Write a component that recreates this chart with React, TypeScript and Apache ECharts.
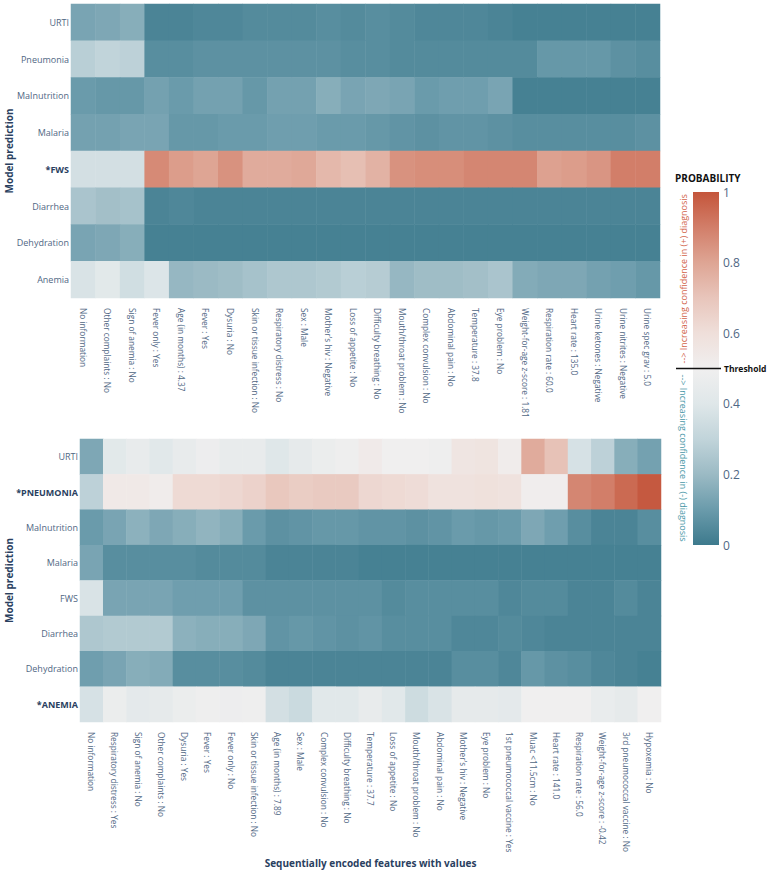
import React, { useEffect, useRef } from "react";
import * as echarts from "echarts";

// ---------- Data ----------
const topRows = ["URTI", "Pneumonia", "Malnutrition", "Malaria", "*FWS", "Diarrhea", "Dehydration", "Anemia"];
const topFeatures = [
  "No information", "Other complaints : No", "Sign of anemia : No", "Fever only : Yes",
  "Age (in months) : 4.37", "Fever : Yes", "Dysuria : No", "Skin or tissue infection : No",
  "Respiratory distress : No", "Sex : Male", "Mother's hiv : Negative", "Loss of appetite : No",
  "Difficulty breathing : No", "Mouth/throat problem : No", "Complex convulsion : No", "Abdominal pain : No",
  "Temperature : 37.8", "Eye problem : No", "Weight-for-age z-score : 1.81", "Respiration rate : 60.0",
  "Heart rate : 135.0", "Urine ketones : Negative", "Urine nitrites : Negative", "Urine spec grav : 5.0",
];
const topValues: number[][] = [
  // URTI
  [0.13, 0.14, 0.16, 0.03, 0.03, 0.04, 0.04, 0.05, 0.05, 0.05, 0.06, 0.05, 0.06, 0.05, 0.04, 0.04, 0.04, 0.03, 0.02, 0.02, 0.02, 0.02, 0.02, 0.02],
  // Pneumonia
  [0.28, 0.30, 0.29, 0.06, 0.06, 0.07, 0.07, 0.07, 0.07, 0.07, 0.07, 0.06, 0.06, 0.05, 0.05, 0.05, 0.05, 0.05, 0.05, 0.09, 0.09, 0.09, 0.07, 0.06],
  // Malnutrition
  [0.10, 0.09, 0.09, 0.12, 0.10, 0.12, 0.12, 0.09, 0.12, 0.12, 0.16, 0.13, 0.14, 0.13, 0.10, 0.11, 0.11, 0.13, 0.02, 0.02, 0.02, 0.02, 0.02, 0.02],
  // Malaria
  [0.12, 0.12, 0.13, 0.13, 0.09, 0.09, 0.10, 0.10, 0.11, 0.11, 0.10, 0.10, 0.09, 0.08, 0.07, 0.08, 0.08, 0.07, 0.06, 0.06, 0.06, 0.06, 0.06, 0.07],
  // *FWS
  [0.36, 0.36, 0.36, 0.87, 0.82, 0.80, 0.85, 0.78, 0.78, 0.79, 0.74, 0.72, 0.76, 0.85, 0.86, 0.86, 0.88, 0.88, 0.88, 0.81, 0.82, 0.84, 0.90, 0.90],
  // Diarrhea
  [0.24, 0.22, 0.23, 0.03, 0.04, 0.03, 0.03, 0.03, 0.03, 0.03, 0.03, 0.03, 0.03, 0.03, 0.03, 0.03, 0.03, 0.03, 0.03, 0.03, 0.03, 0.03, 0.03, 0.03],
  // Dehydration
  [0.13, 0.14, 0.16, 0.02, 0.02, 0.02, 0.02, 0.02, 0.02, 0.02, 0.02, 0.02, 0.02, 0.02, 0.02, 0.02, 0.02, 0.02, 0.02, 0.02, 0.02, 0.02, 0.02, 0.02],
  // Anemia
  [0.38, 0.42, 0.35, 0.39, 0.19, 0.20, 0.21, 0.23, 0.25, 0.25, 0.26, 0.28, 0.27, 0.19, 0.21, 0.21, 0.22, 0.24, 0.15, 0.14, 0.14, 0.12, 0.11, 0.09],
];

const bottomRows = ["URTI", "*PNEUMONIA", "Malnutrition", "Malaria", "FWS", "Diarrhea", "Dehydration", "*ANEMIA"];
const bottomFeatures = [
  "No information", "Respiratory distress : Yes", "Sign of anemia : No", "Other complaints : No",
  "Dysuria : Yes", "Fever : Yes", "Fever only : No", "Skin or tissue infection : No",
  "Age (in months) : 7.89", "Sex : Male", "Complex convulsion : No", "Difficulty breathing : No",
  "Temperature : 37.7", "Loss of appetite : No", "Mouth/throat problem : No", "Abdominal pain : No",
  "Mother's hiv : Negative", "Eye problem : No", "1st pneumococcal vaccine : Yes", "Muac <11.5cm : No",
  "Heart rate : 141.0", "Respiration rate : 56.0", "Weight-for-age z-score : -0.42", "3rd pneumococcal vaccine : No",
  "Hypoxemia : No",
];
const bottomValues: number[][] = [
  // URTI
  [0.14, 0.42, 0.45, 0.41, 0.45, 0.48, 0.45, 0.45, 0.40, 0.44, 0.47, 0.49, 0.53, 0.50, 0.50, 0.49, 0.56, 0.57, 0.52, 0.78, 0.71, 0.37, 0.29, 0.16, 0.12],
  // *PNEUMONIA
  [0.29, 0.54, 0.54, 0.52, 0.62, 0.62, 0.63, 0.65, 0.69, 0.67, 0.68, 0.68, 0.63, 0.62, 0.61, 0.58, 0.58, 0.59, 0.58, 0.51, 0.51, 0.88, 0.90, 0.95, 0.99],
  // Malnutrition
  [0.10, 0.13, 0.17, 0.14, 0.16, 0.18, 0.16, 0.10, 0.07, 0.08, 0.09, 0.09, 0.08, 0.08, 0.07, 0.08, 0.10, 0.09, 0.10, 0.14, 0.11, 0.06, 0.03, 0.03, 0.06],
  // Malaria
  [0.13, 0.06, 0.06, 0.06, 0.06, 0.05, 0.05, 0.05, 0.03, 0.03, 0.03, 0.03, 0.02, 0.02, 0.02, 0.02, 0.02, 0.02, 0.02, 0.02, 0.02, 0.02, 0.02, 0.02, 0.02],
  // FWS
  [0.38, 0.13, 0.13, 0.13, 0.11, 0.11, 0.11, 0.07, 0.07, 0.07, 0.07, 0.07, 0.07, 0.05, 0.06, 0.06, 0.06, 0.06, 0.04, 0.05, 0.05, 0.03, 0.03, 0.05, 0.03],
  // Diarrhea
  [0.25, 0.26, 0.26, 0.26, 0.17, 0.16, 0.16, 0.14, 0.08, 0.09, 0.08, 0.07, 0.08, 0.06, 0.06, 0.06, 0.04, 0.04, 0.05, 0.04, 0.03, 0.03, 0.03, 0.03, 0.03],
  // Dehydration
  [0.11, 0.13, 0.16, 0.15, 0.06, 0.06, 0.06, 0.05, 0.03, 0.03, 0.03, 0.03, 0.03, 0.03, 0.03, 0.03, 0.06, 0.06, 0.04, 0.09, 0.07, 0.06, 0.04, 0.03, 0.02],
  // *ANEMIA
  [0.37, 0.47, 0.43, 0.44, 0.47, 0.49, 0.48, 0.49, 0.36, 0.33, 0.41, 0.41, 0.45, 0.41, 0.34, 0.38, 0.44, 0.44, 0.43, 0.50, 0.50, 0.50, 0.46, 0.44, 0.50],
];

const colorbarTicks = [0, 0.2, 0.4, 0.6, 0.8, 1];
const threshold = 0.5;

// colours for 0, 0.1, ..., 1
const scaleColors = [
  "#3d7a8d", "#6a9bab", "#9bbac4", "#c1d4da", "#dfe7e9", "#f0efef",
  "#efdfda", "#e8c5bb", "#dea594", "#d27e69", "#c4553b",
];

const FONT = "'Open Sans', 'Noto Sans', sans-serif";
const LABEL_COLOR = "#506784";
const TITLE_COLOR = "#2a3f5f";

function toData(values: number[][]) {
  const out: [number, number, number][] = [];
  values.forEach((row, r) => row.forEach((v, c) => out.push([c, r, v])));
  return out;
}

export default function App() {
  const ref = useRef<HTMLDivElement>(null);
  useEffect(() => {
    if (!ref.current) return;
    const chart = echarts.init(ref.current, undefined, { renderer: "svg" });

    const yLabel = {
      fontSize: 9,
      color: LABEL_COLOR,
      fontFamily: FONT,
      margin: 2,
      formatter: (v: string) => (v.startsWith("*") ? `{b|${v}}` : v),
      rich: { b: { fontWeight: "bold", color: TITLE_COLOR, fontSize: 9, fontFamily: FONT } },
    };
    const xLabel = { fontSize: 8.3, color: LABEL_COLOR, fontFamily: FONT, rotate: -90, interval: 0, margin: 10 };
    const yName = { fontSize: 10, fontWeight: "bold", color: TITLE_COLOR, fontFamily: FONT };

    const barX = 693, barY = 192, barW = 26, barH = 353;
    const n = scaleColors.length;
    const gradStops = scaleColors.map((_, i) => ({ offset: i / (n - 1), color: scaleColors[n - 1 - i] }));
    const thrY = barY + barH * (1 - threshold);

    chart.setOption({
      animation: false,
      backgroundColor: "#ffffff",
      grid: [
        { left: 71, top: 4, width: 589, height: 294, outerBoundsMode: "none", containLabel: false },
        { left: 80, top: 439, width: 581, height: 283, outerBoundsMode: "none", containLabel: false },
        { left: barX, top: barY, width: barW, height: barH, outerBoundsMode: "none", containLabel: false },
      ],
      xAxis: [
        {
          type: "category", gridIndex: 0, data: topFeatures, axisTick: { show: false },
          axisLine: { show: false }, axisLabel: xLabel, splitLine: { show: false },
        },
        {
          type: "category", gridIndex: 1, data: bottomFeatures, axisTick: { show: false },
          axisLine: { show: false }, axisLabel: xLabel, splitLine: { show: false },
          name: "Sequentially encoded features with values", nameLocation: "middle", nameGap: 136,
          nameMoveOverlap: false,
          nameTextStyle: { fontSize: 10, fontWeight: "bold", color: TITLE_COLOR, fontFamily: FONT },
        },
        { type: "value", gridIndex: 2, show: false, min: 0, max: 1 },
      ],
      yAxis: [
        {
          type: "category", gridIndex: 0, data: topRows, inverse: true, axisTick: { show: false },
          axisLine: { show: false }, axisLabel: yLabel,
          name: "Model prediction", nameLocation: "middle", nameGap: 57, nameRotate: 90,
          nameMoveOverlap: false, nameTextStyle: yName,
        },
        {
          type: "category", gridIndex: 1, data: bottomRows, inverse: true, axisTick: { show: false },
          axisLine: { show: false }, axisLabel: yLabel,
          name: "Model prediction", nameLocation: "middle", nameGap: 66, nameRotate: 90,
          nameMoveOverlap: false, nameTextStyle: yName,
        },
        {
          type: "value", gridIndex: 2, min: 0, max: 1, interval: 0.2, position: "right",
          axisLine: { show: false }, axisTick: { show: false }, splitLine: { show: false },
          axisLabel: {
            fontSize: 12, color: LABEL_COLOR, fontFamily: FONT, margin: 4,
            formatter: (v: number) => (colorbarTicks.some((t) => Math.abs(t - v) < 1e-6) ? String(Number(v.toFixed(1))) : ""),
          },
        },
      ],
      visualMap: {
        show: false, type: "continuous", min: 0, max: 1, seriesIndex: [0, 1],
        inRange: { color: scaleColors },
      },
      series: [
        { type: "heatmap", xAxisIndex: 0, yAxisIndex: 0, data: toData(topValues), itemStyle: { borderWidth: 0 }, emphasis: { disabled: true } },
        { type: "heatmap", xAxisIndex: 1, yAxisIndex: 1, data: toData(bottomValues), itemStyle: { borderWidth: 0 }, emphasis: { disabled: true } },
      ],
      graphic: [
        {
          type: "rect", shape: { x: barX, y: barY, width: barW, height: barH },
          style: {
            fill: { type: "linear", x: 0, y: 0, x2: 0, y2: 1, colorStops: gradStops, global: false },
          },
        },
        {
          type: "text", x: 675, y: 178,
          style: { text: "PROBABILITY", fontSize: 10, fontWeight: "bold", fill: "#111", fontFamily: FONT, verticalAlign: "middle" },
        },
        {
          type: "line",
          shape: { x1: 676, y1: thrY, x2: 721, y2: thrY },
          style: { stroke: "#111", lineWidth: 1.5 },
        },
        {
          type: "text", x: 724, y: thrY,
          style: { text: "Threshold", fontSize: 8.5, fontWeight: "bold", fill: "#111", fontFamily: FONT, verticalAlign: "middle" },
        },
        {
          type: "text", x: 683, y: thrY - 5, rotation: Math.PI / 2,
          style: { text: "--> Increasing confidence in (+) diagnosis", fontSize: 9, fill: "#d2644a", fontFamily: FONT, align: "left", verticalAlign: "middle" },
        },
        {
          type: "text", x: 683, y: thrY + 6, rotation: -Math.PI / 2,
          style: { text: "--> Increasing confidence in (-) diagnosis", fontSize: 9, fill: "#4a98a8", fontFamily: FONT, align: "left", verticalAlign: "middle" },
        },
      ],
    });
    return () => chart.dispose();
  }, []);

  return <div ref={ref} style={{ position: "absolute", left: 0, top: 0, width: 767, height: 872 }} />;
}
